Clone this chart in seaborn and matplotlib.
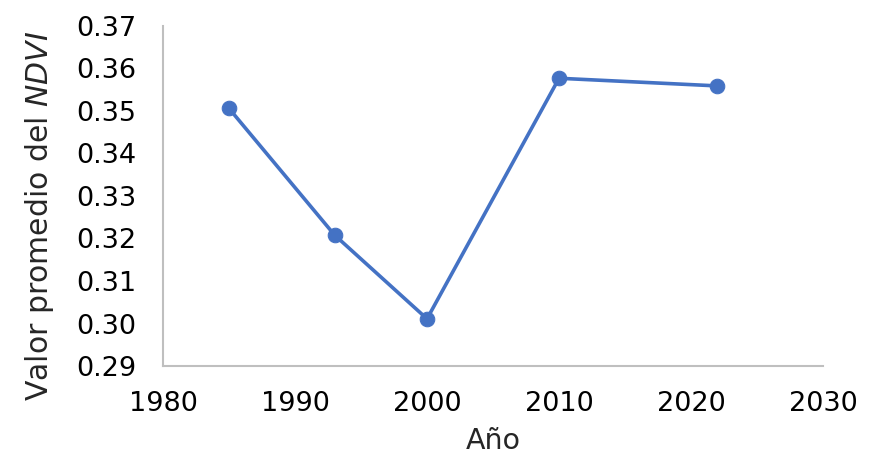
import numpy as np
import pandas as pd
import matplotlib
matplotlib.use("Agg")
import matplotlib.pyplot as plt
import seaborn as sns

# valores
anios = [1985, 1993, 2000, 2010, 2022]
ndvi = [0.3506, 0.3208, 0.3011, 0.3577, 0.3559]

xticks = [1980, 1990, 2000, 2010, 2020, 2030]
yticks = [0.29, 0.30, 0.31, 0.32, 0.33, 0.34, 0.35, 0.36, 0.37]

sns.set_style("white")
plt.rcParams['font.family'] = ['DejaVu Sans']
plt.rcParams['mathtext.fontset'] = 'dejavusans'

df = pd.DataFrame({"Año": anios, "NDVI": ndvi})

fig = plt.figure(figsize=(8.85, 4.69), dpi=100)
ax = fig.add_axes([0.1842, 0.2196, 0.7458, 0.725])

sns.lineplot(data=df, x="Año", y="NDVI", ax=ax, color="#4472C4",
             linewidth=2.6, marker="o", markersize=10.5,
             markeredgecolor="#4472C4", markerfacecolor="#4472C4")

ax.set_xlim(1980, 2030)
ax.set_ylim(0.29, 0.37)
ax.set_xticks(xticks)
ax.set_yticks(yticks)
ax.set_yticklabels([f"{v:.2f}" for v in yticks])
ax.tick_params(axis="x", length=0, pad=18, labelsize=19.5, colors="#000000")
ax.tick_params(axis="y", length=0, pad=19, labelsize=19.5, colors="#000000")

for s in ["top", "right"]:
    ax.spines[s].set_visible(False)
for s in ["left", "bottom"]:
    ax.spines[s].set_color("#BFBFBF")
    ax.spines[s].set_linewidth(1.5)

ax.set_xlabel("Año", fontsize=20.5)
ax.set_ylabel("Valor promedio del $\\mathit{NDVI}$", fontsize=21.5)
ax.yaxis.set_label_coords(-0.162, 0.44)
ax.xaxis.set_label_coords(0.5, -0.18)

plt.savefig("out.png", dpi=100)
